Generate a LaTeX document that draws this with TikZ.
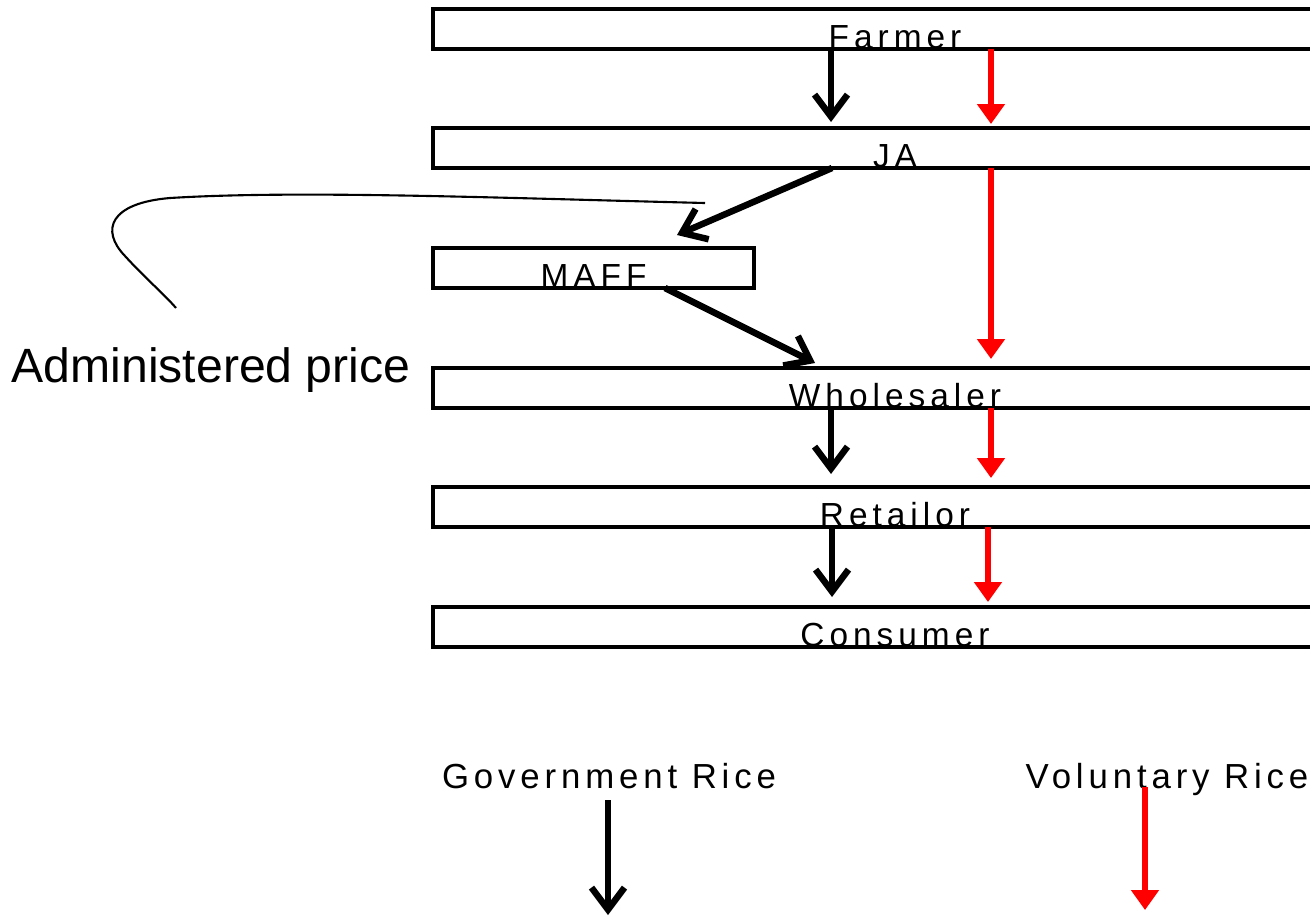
\documentclass[tikz,border=0pt]{standalone}
\usepackage{fontspec}
\setmainfont{Liberation Sans}
\newfontfamily\stagefont[LetterSpace=15]{Liberation Sans}
\newfontfamily\legendfont[LetterSpace=14]{Liberation Sans}
\usetikzlibrary{arrows.meta}

\begin{document}
\begin{tikzpicture}[x=0.02cm, y=-0.02cm,
  stage/.style={draw, line width=2.3pt, inner sep=0pt, outer sep=0pt, minimum height=0.8cm},
  stagename/.style={anchor=base, inner sep=0pt, font=\stagefont\fontsize{19pt}{23pt}\selectfont},
  govt/.style={line width=3.7pt, -{Straight Barb[length=0.44cm, width=0.66cm]}},
  volun/.style={red, line width=3.3pt, -{Triangle[length=0.4cm, width=0.54cm]}},
  legend/.style={anchor=base, inner sep=0pt, font=\legendfont\fontsize{19.8pt}{24pt}\selectfont}]
\useasboundingbox (0,0) rectangle (1310,917);
% boxes

\node[stage, minimum width=18.48cm] (A) at (895,29) {};
\node[stage, minimum width=18.48cm] (B) at (895,148) {};
\node[stage, minimum width=6.42cm] (C) at (593.5,268) {};
\node[stage, minimum width=18.48cm] (D) at (895,388) {};
\node[stage, minimum width=18.48cm] (E) at (895,507) {};
\node[stage, minimum width=18.48cm] (F) at (895,627) {};

\node[stagename] (a) at ([yshift=0.02cm]A.south) {Farmer};
\node[stagename] (b) at ([yshift=0.02cm]B.south) {JA};
\node[stagename] (c) at ([yshift=0.02cm]C.south) {MAFF};
\node[stagename] (d) at ([yshift=0.02cm]D.south) {Wholesaler};
\node[stagename] (e) at ([yshift=0.02cm]E.south) {Retailor};
\node[stagename] (f) at ([yshift=0.02cm]F.south) {Consumer};

% government rice
\draw [govt, shorten >=0.12cm] ([xshift=-1.28cm]A.south)--([xshift=-1.28cm]B.north);
\draw [govt] ([xshift=-1.26cm]B.south)--([xshift=1.67cm,yshift=0.26cm]C.north);
\draw [govt] ([xshift=1.43cm]C.south)--([xshift=-1.6cm,yshift=0.1cm]D.north);
\draw [govt, shorten >=0.26cm] ([xshift=-1.28cm]D.south)--([xshift=-1.28cm]E.north);
\draw [govt, shorten >=0.2cm] ([xshift=-1.26cm]E.south)--([xshift=-1.26cm]F.north);

% voluntary rice
\draw [volun, shorten >=0.08cm] ([xshift=1.92cm]A.south)--([xshift=1.92cm]B.north);
\draw [volun, shorten >=0.18cm] ([xshift=1.92cm]B.south)--([xshift=1.92cm]D.north);
\draw [volun, shorten >=0.18cm] ([xshift=1.92cm]D.south)--([xshift=1.92cm]E.north);
\draw [volun, shorten >=0.1cm] ([xshift=1.86cm]E.south)--([xshift=1.86cm]F.north);

% administered price
\node[anchor=base, inner sep=0pt, font=\fontsize{27.4pt}{32pt}\selectfont] (K) at (211,382) {Administered price};
\coordinate (P) at (705,203);
\coordinate (Q) at (176,308);
\draw [line width=1.2pt] (P) .. controls (500,198) and (300,190) .. (170,198)
  .. controls (110,203) and (100,230) .. (125,256)
  .. controls (145,278) and (165,295) .. (Q);

% legend
\node[legend] (G) at (609,788) {Government\ Rice};
\node[legend] (H) at (1167,788) {Voluntary Rice};
\coordinate (g) at (608,915);
\coordinate (h) at (1145,910);
\draw [govt] ([xshift=-0.02cm,yshift=-0.24cm]G.base)--(g);
\draw [volun] ([xshift=-0.44cm,yshift=0.02cm]H.base)--(h);
\end{tikzpicture}
\end{document}
